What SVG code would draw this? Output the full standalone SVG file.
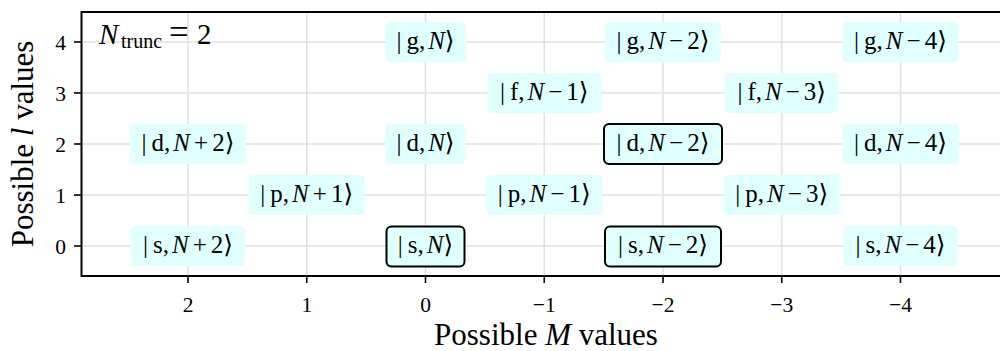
<svg xmlns="http://www.w3.org/2000/svg" width="1000" height="351" viewBox="0 0 1000 351">
<style>
text{font-family:"Liberation Serif","DejaVu Serif",serif;fill:#000}
.grid line{stroke:#e0e0e0;stroke-width:1.5}
.spine{stroke:#000;stroke-width:2;fill:none}
.tick{stroke:#000;stroke-width:1.6}
.tl{font-size:21.5px}
.ax{font-size:31px}
.it{font-style:italic}
.box{fill:#e0ffff;stroke:none}
.boxk{fill:#e0ffff;stroke:#000;stroke-width:2}
.lbl{font-size:25px;text-anchor:middle}
</style>
<rect width="1000" height="351" fill="#fff"/>
<g class="grid">
<line x1="188" y1="12" x2="188" y2="276"/>
<line x1="306.75" y1="12" x2="306.75" y2="276"/>
<line x1="425.5" y1="12" x2="425.5" y2="276"/>
<line x1="544.25" y1="12" x2="544.25" y2="276"/>
<line x1="663" y1="12" x2="663" y2="276"/>
<line x1="781.75" y1="12" x2="781.75" y2="276"/>
<line x1="900.5" y1="12" x2="900.5" y2="276"/>
<line x1="81" y1="42" x2="1000" y2="42"/>
<line x1="81" y1="93" x2="1000" y2="93"/>
<line x1="81" y1="144" x2="1000" y2="144"/>
<line x1="81" y1="195" x2="1000" y2="195"/>
<line x1="81" y1="246" x2="1000" y2="246"/>
</g>
<g id="axes">
<path class="spine" d="M1001 12 H81.5 V276 H1001"/>
<g class="tick">
<line x1="74" y1="42" x2="81" y2="42"/>
<line x1="74" y1="93" x2="81" y2="93"/>
<line x1="74" y1="144" x2="81" y2="144"/>
<line x1="74" y1="195" x2="81" y2="195"/>
<line x1="74" y1="246" x2="81" y2="246"/>
<line x1="188" y1="276" x2="188" y2="283"/>
<line x1="306.75" y1="276" x2="306.75" y2="283"/>
<line x1="425.5" y1="276" x2="425.5" y2="283"/>
<line x1="544.25" y1="276" x2="544.25" y2="283"/>
<line x1="663" y1="276" x2="663" y2="283"/>
<line x1="781.75" y1="276" x2="781.75" y2="283"/>
<line x1="900.5" y1="276" x2="900.5" y2="283"/>
</g>
<g class="tl" text-anchor="end">
<text x="66" y="49.5">4</text>
<text x="66" y="100.5">3</text>
<text x="66" y="151.5">2</text>
<text x="66" y="202.5">1</text>
<text x="66" y="253.5">0</text>
</g>
<g class="tl" text-anchor="middle">
<text x="188" y="312">2</text>
<text x="306.75" y="312">1</text>
<text x="425.5" y="312">0</text>
<text x="544.25" y="312">−1</text>
<text x="663" y="312">−2</text>
<text x="781.75" y="312">−3</text>
<text x="900.5" y="312">−4</text>
</g>
<text class="ax" x="546" y="345" text-anchor="middle">Possible <tspan class="it">M</tspan> values</text>
<text class="ax" transform="translate(33,144) rotate(-90)" text-anchor="middle">Possible <tspan class="it">l</tspan> values</text>
<text x="99" y="44" font-size="29px"><tspan class="it">N</tspan><tspan x="121" y="48" font-size="20px">trunc</tspan><tspan x="169" y="44" font-size="35px">=</tspan><tspan x="197" y="44">2</tspan></text>
</g>
<g id="n-g-N"><rect class="box" x="385.5" y="22" width="80" height="40" rx="5"/><text class="lbl" x="425.5" y="48.5">|<tspan dx="5">g,</tspan><tspan dx="3" class="it">N</tspan>⟩</text></g>
<g id="n-g-Nm2"><rect class="box" x="605" y="22" width="116" height="40" rx="5"/><text class="lbl" x="663" y="48.5">|<tspan dx="5">g,</tspan><tspan dx="3" class="it">N</tspan><tspan dx="4">−</tspan><tspan dx="4">2⟩</tspan></text></g>
<g id="n-g-Nm4"><rect class="box" x="842.5" y="22" width="116" height="40" rx="5"/><text class="lbl" x="900.5" y="48.5">|<tspan dx="5">g,</tspan><tspan dx="3" class="it">N</tspan><tspan dx="4">−</tspan><tspan dx="4">4⟩</tspan></text></g>
<g id="n-f-Nm1"><rect class="box" x="487.25" y="73" width="114" height="40" rx="5"/><text class="lbl" x="544.25" y="99.5">|<tspan dx="5">f,</tspan><tspan dx="3" class="it">N</tspan><tspan dx="4">−</tspan><tspan dx="4">1⟩</tspan></text></g>
<g id="n-f-Nm3"><rect class="box" x="724.75" y="73" width="114" height="40" rx="5"/><text class="lbl" x="781.75" y="99.5">|<tspan dx="5">f,</tspan><tspan dx="3" class="it">N</tspan><tspan dx="4">−</tspan><tspan dx="4">3⟩</tspan></text></g>
<g id="n-d-Np2"><rect class="box" x="130" y="124" width="116" height="40" rx="5"/><text class="lbl" x="188" y="150.5">|<tspan dx="5">d,</tspan><tspan dx="3" class="it">N</tspan><tspan dx="4">+</tspan><tspan dx="4">2⟩</tspan></text></g>
<g id="n-d-N"><rect class="box" x="385.5" y="124" width="80" height="40" rx="5"/><text class="lbl" x="425.5" y="150.5">|<tspan dx="5">d,</tspan><tspan dx="3" class="it">N</tspan>⟩</text></g>
<g id="n-d-Nm2"><rect class="boxk" x="604" y="124" width="118" height="40" rx="5"/><text class="lbl" x="663" y="150.5">|<tspan dx="5">d,</tspan><tspan dx="3" class="it">N</tspan><tspan dx="4">−</tspan><tspan dx="4">2⟩</tspan></text></g>
<g id="n-d-Nm4"><rect class="box" x="842.5" y="124" width="116" height="40" rx="5"/><text class="lbl" x="900.5" y="150.5">|<tspan dx="5">d,</tspan><tspan dx="3" class="it">N</tspan><tspan dx="4">−</tspan><tspan dx="4">4⟩</tspan></text></g>
<g id="n-p-Np1"><rect class="box" x="248.75" y="175" width="116" height="40" rx="5"/><text class="lbl" x="306.75" y="201.5">|<tspan dx="5">p,</tspan><tspan dx="3" class="it">N</tspan><tspan dx="4">+</tspan><tspan dx="4">1⟩</tspan></text></g>
<g id="n-p-Nm1"><rect class="box" x="486.25" y="175" width="116" height="40" rx="5"/><text class="lbl" x="544.25" y="201.5">|<tspan dx="5">p,</tspan><tspan dx="3" class="it">N</tspan><tspan dx="4">−</tspan><tspan dx="4">1⟩</tspan></text></g>
<g id="n-p-Nm3"><rect class="box" x="723.75" y="175" width="116" height="40" rx="5"/><text class="lbl" x="781.75" y="201.5">|<tspan dx="5">p,</tspan><tspan dx="3" class="it">N</tspan><tspan dx="4">−</tspan><tspan dx="4">3⟩</tspan></text></g>
<g id="n-s-Np2"><rect class="box" x="131" y="226" width="114" height="40" rx="5"/><text class="lbl" x="188" y="252.5">|<tspan dx="5">s,</tspan><tspan dx="3" class="it">N</tspan><tspan dx="4">+</tspan><tspan dx="4">2⟩</tspan></text></g>
<g id="n-s-N"><rect class="boxk" x="386.5" y="226.5" width="78" height="40" rx="5"/><text class="lbl" x="425.5" y="252.5">|<tspan dx="5">s,</tspan><tspan dx="3" class="it">N</tspan>⟩</text></g>
<g id="n-s-Nm2"><rect class="boxk" x="605" y="226.5" width="116" height="40" rx="5"/><text class="lbl" x="663" y="252.5">|<tspan dx="5">s,</tspan><tspan dx="3" class="it">N</tspan><tspan dx="4">−</tspan><tspan dx="4">2⟩</tspan></text></g>
<g id="n-s-Nm4"><rect class="box" x="843.5" y="226" width="114" height="40" rx="5"/><text class="lbl" x="900.5" y="252.5">|<tspan dx="5">s,</tspan><tspan dx="3" class="it">N</tspan><tspan dx="4">−</tspan><tspan dx="4">4⟩</tspan></text></g>
</svg>
